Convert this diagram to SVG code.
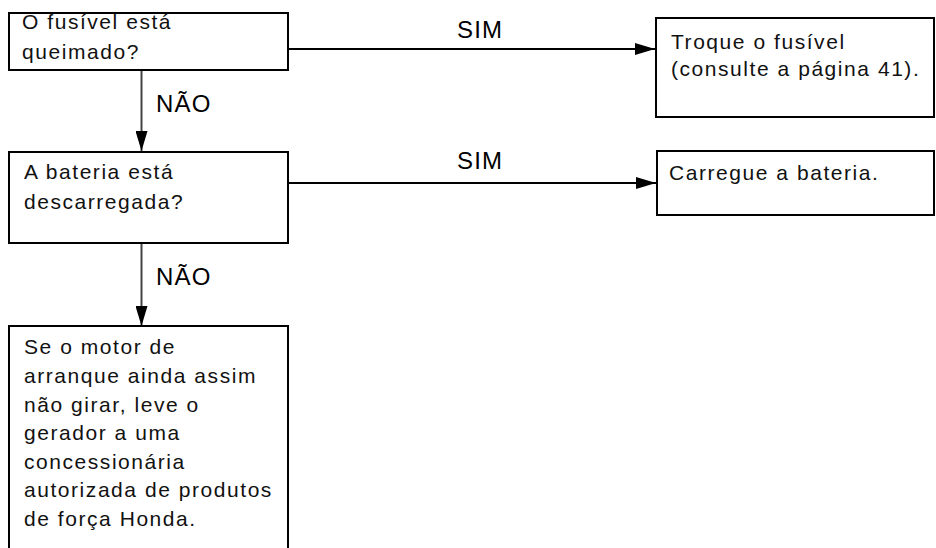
<svg xmlns="http://www.w3.org/2000/svg" width="936" height="548" viewBox="0 0 936 548">
  <style>
    .box { fill: #ffffff; stroke: #000000; stroke-width: 2; }
    .t { font-family: "Liberation Sans", Arial, sans-serif; font-size: 21px; letter-spacing: 1.55px; fill: #111111; }
    .lbl { font-family: "Liberation Sans", Arial, sans-serif; font-size: 24px; letter-spacing: 1.2px; fill: #000000; }
    .h { stroke: #000000; stroke-width: 2; fill: none; }
    .v { stroke: #444444; stroke-width: 2; fill: none; }
  </style>
  <defs>
    <marker id="arr" viewBox="0 0 20 12" refX="20" refY="6" markerWidth="20" markerHeight="12" markerUnits="userSpaceOnUse" orient="auto">
      <path d="M0,0 L20,6 L0,12 Z" fill="#000000"/>
    </marker>
  </defs>
  <rect width="936" height="548" fill="#ffffff"/>
  <g id="connectors">
    <line class="h" x1="288" y1="49" x2="655" y2="49" marker-end="url(#arr)"/>
    <line class="h" x1="288" y1="183" x2="656" y2="183" marker-end="url(#arr)"/>
    <line class="v" x1="141.5" y1="70" x2="141.5" y2="151" marker-end="url(#arr)"/>
    <line class="v" x1="141.5" y1="243" x2="141.5" y2="326" marker-end="url(#arr)"/>
    <text class="lbl" x="457" y="38">SIM</text>
    <text class="lbl" x="457" y="169">SIM</text>
    <text class="lbl" x="156" y="112">NÃO</text>
    <text class="lbl" x="156" y="285">NÃO</text>
  </g>
  <g id="fuse">
    <rect class="box" x="9" y="13" width="279" height="57"/>
    <text class="t" x="22" y="29">O fusível está</text>
    <text class="t" x="22" y="59">queimado?</text>
  </g>
  <g id="replace-fuse">
    <rect class="box" x="656" y="18" width="278" height="99"/>
    <text class="t" x="671" y="49">Troque o fusível</text>
    <text class="t" x="671" y="76">(consulte a página 41).</text>
  </g>
  <g id="battery">
    <rect class="box" x="9" y="152" width="279" height="91"/>
    <text class="t" x="24" y="179">A bateria está</text>
    <text class="t" x="24" y="209">descarregada?</text>
  </g>
  <g id="charge">
    <rect class="box" x="657" y="151" width="277" height="64"/>
    <text class="t" x="669" y="180">Carregue a bateria.</text>
  </g>
  <g id="dealer">
    <rect class="box" x="9" y="326" width="279" height="240"/>
    <text class="t" x="24" y="354">Se o motor de</text>
    <text class="t" x="24" y="383">arranque ainda assim</text>
    <text class="t" x="24" y="411.5">não girar, leve o</text>
    <text class="t" x="24" y="440">gerador a uma</text>
    <text class="t" x="24" y="468.5">concessionária</text>
    <text class="t" x="24" y="497">autorizada de produtos</text>
    <text class="t" x="24" y="525.5">de força Honda.</text>
  </g>
</svg>
